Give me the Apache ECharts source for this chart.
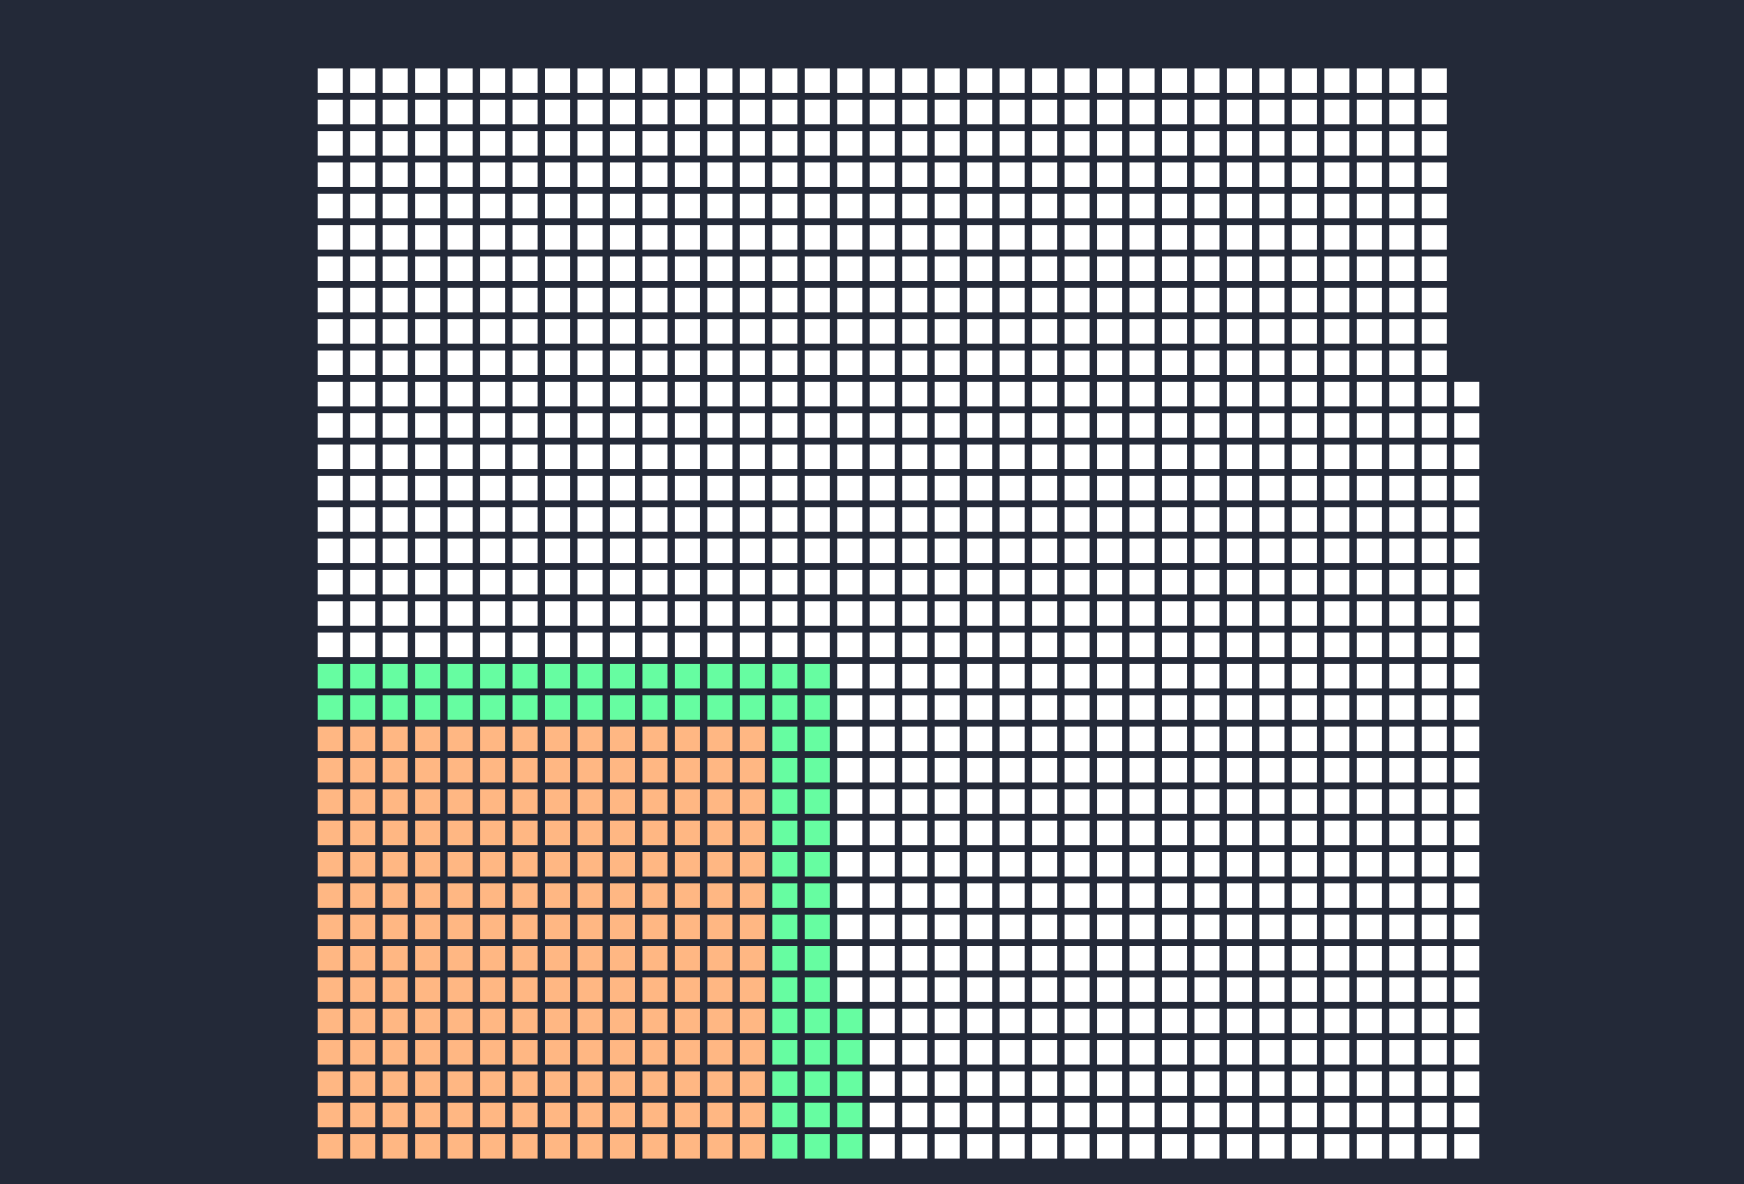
<!DOCTYPE html>
<html>
<head>
<meta charset="utf-8">
<style>
  html, body { margin: 0; padding: 0; background: #232938; }
  #chart { width: 1744px; height: 1184px; }
</style>
<script src="https://cdn.jsdelivr.net/npm/echarts@6/dist/echarts.min.js"></script>
</head>
<body>
<div id="chart"></div>
<script>
// Categories and their unit counts (one cell per unit)
const categories = ['A', 'B', 'C'];
const counts = [196, 65, 989];
const colors = ['#ffb783', '#66fda1', '#ffffff'];

// Square-shell layout: cells fill outward from bottom-left corner.
// Shell k: column k rows 0..k-1 (bottom->top), then row k cols 0..k (left->right).
function shellPositions(total) {
  const pos = [];
  let k = 0;
  while (pos.length < total) {
    if (k === 0) { pos.push([0, 0]); k = 1; continue; }
    for (let r = 0; r < k && pos.length < total; r++) pos.push([k, r]);
    for (let c = 0; c <= k && pos.length < total; c++) pos.push([c, k]);
    k++;
  }
  return pos;
}

const total = counts.reduce((a, b) => a + b, 0);
const positions = shellPositions(total);
const cells = [];
let idx = 0;
counts.forEach((n, ci) => {
  for (let i = 0; i < n; i++) {
    const p = positions[idx++];
    cells.push([p[0], p[1], ci]);
  }
});
const nCols = Math.max(...cells.map(c => c[0])) + 1;
const nRows = Math.max(...cells.map(c => c[1])) + 1;

const chart = echarts.init(document.getElementById('chart'), null, { renderer: 'canvas' });
chart.setOption({
  backgroundColor: '#232938',
  animation: false,
  grid: { left: 314, top: 65, width: 1169, height: 1097 },
  xAxis: { type: 'value', min: -0.5, max: nCols - 0.5, show: false },
  yAxis: { type: 'value', min: -0.5, max: nRows - 0.5, show: false },
  series: [{
    type: 'custom',
    data: cells,
    encode: { x: 0, y: 1 },
    renderItem: function (params, api) {
      const c = api.coord([api.value(0), api.value(1)]);
      const s = api.size([1, 1]);
      const w = s[0] * 0.772, h = s[1] * 0.783;
      return {
        type: 'rect',
        shape: { x: c[0] - w / 2, y: c[1] - h / 2, width: w, height: h },
        style: { fill: colors[api.value(2)] }
      };
    }
  }]
});
</script>
</body>
</html>
